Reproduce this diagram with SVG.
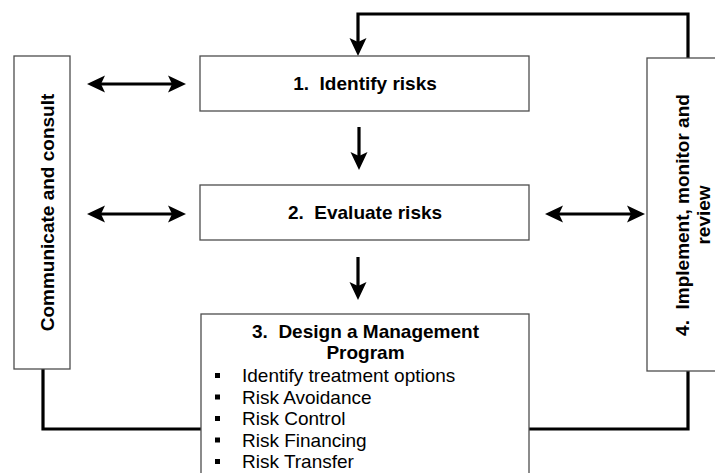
<svg xmlns="http://www.w3.org/2000/svg" width="715" height="473" viewBox="0 0 715 473">
<style>
.box{fill:#fff;stroke:#4d4d4d;stroke-width:1.3}
.b{font-family:"Liberation Sans",Arial,sans-serif;font-weight:bold;font-size:19px;fill:#000}
.r{font-family:"Liberation Sans",Arial,sans-serif;font-size:19px;fill:#000}
.ln{fill:none;stroke:#000;stroke-width:3.2}
</style>
<defs>
<marker id="ah" markerUnits="userSpaceOnUse" markerWidth="20" markerHeight="20" viewBox="0 0 20 20" refX="5" refY="10" orient="auto-start-reverse">
<path d="M0,1.5 L18,10 L0,18.5 L4,10 Z" fill="#000"/>
</marker>
</defs>
<rect width="715" height="473" fill="#fff"/>
<g id="connectors">
<path class="ln" d="M688,58 V14 H358 V43" marker-end="url(#ah)"/>
<line class="ln" x1="100" y1="84" x2="173" y2="84" marker-start="url(#ah)" marker-end="url(#ah)"/>
<line class="ln" x1="100" y1="214" x2="173" y2="214" marker-start="url(#ah)" marker-end="url(#ah)"/>
<line class="ln" x1="558" y1="214" x2="632" y2="214" marker-start="url(#ah)" marker-end="url(#ah)"/>
<line class="ln" x1="359" y1="127" x2="359" y2="157" marker-end="url(#ah)"/>
<line class="ln" x1="358" y1="257" x2="358" y2="287" marker-end="url(#ah)"/>
<path class="ln" d="M43,369 V429 H201"/>
<path class="ln" d="M529,429 H688 V371"/>
</g>
<g id="communicate">
<rect class="box" x="14" y="56" width="56" height="313"/>
<text class="b" text-anchor="middle" transform="translate(54,212.5) rotate(-90)">Communicate and consult</text>
</g>
<g id="identify">
<rect class="box" x="200" y="56" width="329" height="55"/>
<text class="b" x="365" y="90" text-anchor="middle" xml:space="preserve">1.  Identify risks</text>
</g>
<g id="evaluate">
<rect class="box" x="200" y="185" width="329" height="55"/>
<text class="b" x="365" y="219" text-anchor="middle" xml:space="preserve">2.  Evaluate risks</text>
</g>
<g id="design">
<rect class="box" x="201" y="314" width="328" height="170"/>
<text class="b" x="365.5" y="338" text-anchor="middle" xml:space="preserve">3.  Design a Management</text>
<text class="b" x="365.5" y="359" text-anchor="middle">Program</text>
<g fill="#000">
<rect x="215" y="373" width="5" height="5"/>
<rect x="215" y="394.5" width="5" height="5"/>
<rect x="215" y="416" width="5" height="5"/>
<rect x="215" y="437.5" width="5" height="5"/>
<rect x="215" y="459" width="5" height="5"/>
</g>
<text class="r" x="242" y="382">Identify treatment options</text>
<text class="r" x="242" y="403.5">Risk Avoidance</text>
<text class="r" x="242" y="425">Risk Control</text>
<text class="r" x="242" y="446.5">Risk Financing</text>
<text class="r" x="242" y="468">Risk Transfer</text>
</g>
<g id="implement">
<rect class="box" x="647" y="58" width="80" height="313"/>
<text class="b" text-anchor="middle" transform="translate(689,215) rotate(-90)" xml:space="preserve"><tspan x="0" y="0">4.  Implement, monitor and</tspan><tspan x="0" y="21">review</tspan></text>
</g>
</svg>
